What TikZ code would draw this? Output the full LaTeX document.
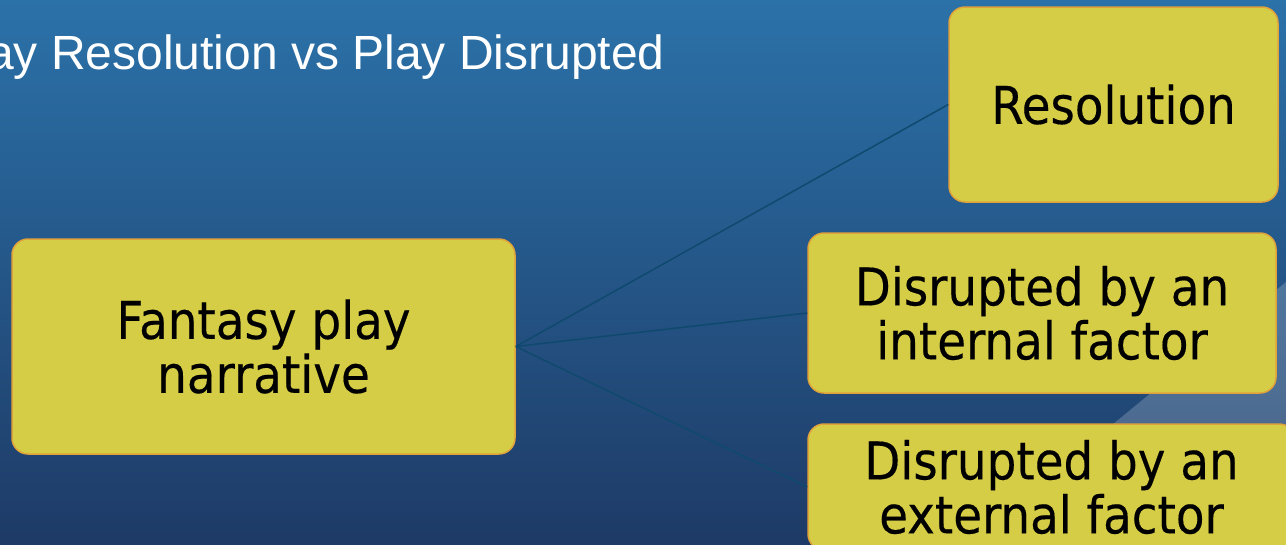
\documentclass[tikz,border=0pt]{standalone}
\usepackage{fontspec}
\newfontfamily\boxfont[FakeStretch=0.9,FakeBold=0.3]{DejaVu Sans}
\newfontfamily\titlefont{Liberation Sans}
\definecolor{bgtop}{HTML}{2B72A9}
\definecolor{bgbot}{HTML}{1E3A66}
\definecolor{boxfill}{HTML}{D6CD47}
\definecolor{boxedge}{HTML}{E0A23A}
\definecolor{linkcol}{HTML}{0F4A6E}
\tikzset{
  ybox/.style={draw=boxedge, line width=1.5pt, fill=boxfill, rounded corners=16pt,
    align=center, inner sep=0pt, text=black,
    font=\boxfont\fontsize{52}{54}\selectfont},
  link/.style={draw=linkcol, line width=1.5pt},
}
\begin{document}
\begin{tikzpicture}[x=1pt,y=-1pt]
\useasboundingbox (0,0) rectangle (1286,544);
\clip (0,0) rectangle (1286,544);
\shade[top color=bgtop, bottom color=bgbot] (0,0) rectangle (1286,544);
\fill[white, opacity=0.2] (1286,282) -- (967,544) -- (1286,544) -- cycle;
\node[anchor=base east, text=white, font=\titlefont\fontsize{48}{56}\selectfont, inner sep=0pt]
  (title) at (665,69) {ay Resolution vs Play Disrupted};
\node[ybox, minimum width=503pt, minimum height=215pt] (fant) at (263.5,346.5) {Fantasy play\\narrative};
\node[ybox, minimum width=329pt, minimum height=195pt] (res) at (1113.5,104.5) {Resolution};
\node[ybox, minimum width=468pt, minimum height=160pt] (int) at (1042,313) {Disrupted by an\\internal factor};
\node[ybox, minimum width=487pt, minimum height=126pt] (ext) at (1051.5,487) {Disrupted by an\\external factor};
\draw[link] (fant.east) -- (res.west);
\draw[link] (fant.east) -- (int.west);
\draw[link] (fant.east) -- (ext.west);
\end{tikzpicture}
\end{document}
